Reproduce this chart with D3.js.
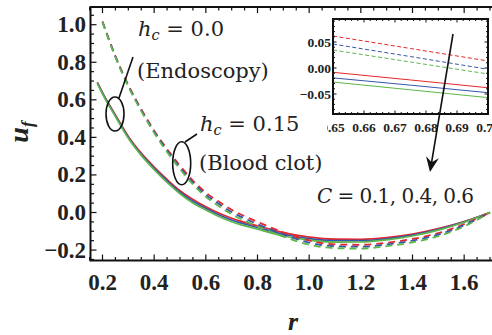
<!DOCTYPE html>
<html><head><meta charset="utf-8">
<script src="https://cdn.jsdelivr.net/npm/d3@7"></script>
<style>body{margin:0;background:#fff}svg{display:block}</style>
</head><body>
<svg id="c" width="492" height="335"></svg>
<script>
// ---------- data ----------
const rSolid = [0.18,0.2,0.25,0.3,0.35,0.4,0.45,0.5,0.55,0.6,0.65,0.7,0.8,0.9,1.0,1.1,1.2,1.3,1.4,1.5,1.6,1.7];
const solidC01 = [0.693,0.638,0.519,0.405,0.316,0.242,0.176,0.116,0.069,0.031,-0.003,-0.031,-0.071,-0.107,-0.131,-0.142,-0.143,-0.134,-0.115,-0.086,-0.048,0];
const solidC04 = [0.690,0.635,0.515,0.400,0.310,0.235,0.168,0.108,0.060,0.022,-0.012,-0.040,-0.080,-0.116,-0.139,-0.150,-0.150,-0.140,-0.120,-0.090,-0.050,0];
const solidC06 = [0.687,0.632,0.511,0.395,0.304,0.228,0.160,0.100,0.051,0.013,-0.021,-0.049,-0.089,-0.125,-0.147,-0.158,-0.157,-0.146,-0.125,-0.094,-0.052,0];
const rDashed = [0.2,0.25,0.3,0.35,0.4,0.45,0.5,0.55,0.6,0.65,0.7,0.8,0.9,1.0,1.1,1.2,1.3,1.4,1.5,1.6,1.7];
const dashedC01 = [1.017,0.833,0.679,0.550,0.436,0.338,0.249,0.170,0.106,0.058,0.015,-0.050,-0.106,-0.149,-0.170,-0.172,-0.161,-0.141,-0.110,-0.062,0];
const dashedC04 = [1.015,0.830,0.675,0.545,0.430,0.330,0.240,0.160,0.095,0.046,0.003,-0.062,-0.117,-0.160,-0.180,-0.182,-0.170,-0.150,-0.118,-0.068,0];
const dashedC06 = [1.013,0.827,0.671,0.540,0.424,0.322,0.231,0.150,0.084,0.034,-0.009,-0.074,-0.128,-0.171,-0.190,-0.192,-0.179,-0.159,-0.126,-0.074,0];
// inset (zoom of 0.65 <= r <= 0.70)
const rInset = [0.65,0.675,0.70];
const insetDashedC01 = [0.0615,0.0375,0.0135];
const insetDashedC04 = [0.046,0.022,-0.0025];
const insetDashedC06 = [0.0346,0.0115,-0.0115];
const insetSolidC01 = [-0.0083,-0.023,-0.038];
const insetSolidC04 = [-0.019,-0.033,-0.0475];
const insetSolidC06 = [-0.027,-0.042,-0.057];
const xTicks = [0.2,0.4,0.6,0.8,1.0,1.2,1.4,1.6];
const yTicks = [-0.2,0.0,0.2,0.4,0.6,0.8,1.0];
const insetXTicks = [0.65,0.66,0.67,0.68,0.69,0.70];
const insetYTicks = [-0.05,0.00,0.05];
const cLabels = ["0.1","0.4","0.6"];
const colors = ["#e5262c","#3656a8","#5cb64a"];

// ---------- scales ----------
const svg = d3.select("#c");
const L = 90.5, T = 7, B = 260.5, R = 496;
const x = d3.scaleLinear().domain([0.2,1.7]).range([102.5,490]);
const y = d3.scaleLinear().domain([0,1]).range([212.5,24.7]);
const fmt = v => (v<0?"\u2212":"") + Math.abs(v).toFixed(1);

// ticks (inward)
const g = svg.append("g");
const minorX = d3.range(0.15,1.76,0.05);
const minorY = d3.range(-0.25,1.09,0.05);
minorX.forEach(v=>{
  const major = xTicks.some(t=>Math.abs(t-v)<1e-6);
  const len = major?6:3.5;
  g.append("line").attr("x1",x(v)).attr("x2",x(v)).attr("y1",B).attr("y2",B-len).attr("stroke","#111").attr("stroke-width",1.2);
  g.append("line").attr("x1",x(v)).attr("x2",x(v)).attr("y1",T).attr("y2",T+len).attr("stroke","#111").attr("stroke-width",1.2);
});
minorY.forEach(v=>{
  if (y(v)<T+1||y(v)>B-1) return;
  const major = yTicks.some(t=>Math.abs(t-v)<1e-6);
  const len = major?6:3.5;
  g.append("line").attr("x1",L).attr("x2",L+len).attr("y1",y(v)).attr("y2",y(v)).attr("stroke","#111").attr("stroke-width",1.2);
});
// frame
svg.append("path").attr("d",`M${R},${T}H${L}V${B}H${R}`).attr("fill","none").attr("stroke","#111").attr("stroke-width",2);

// tick labels
const tf = "'Liberation Serif', 'DejaVu Serif', serif";
svg.append("g").selectAll("text").data(xTicks).join("text")
  .attr("x",d=>x(d)).attr("y",290).attr("text-anchor","middle")
  .attr("font-family",tf).attr("font-weight","bold").attr("font-size",23).attr("fill","#222")
  .text(d=>d.toFixed(1));
svg.append("g").selectAll("text").data(yTicks).join("text")
  .attr("x",86).attr("y",d=>y(d)+7.5).attr("text-anchor","end")
  .attr("font-family",tf).attr("font-weight","bold").attr("font-size",23).attr("fill","#222")
  .text(fmt);

// axis titles
svg.append("text").attr("x",293).attr("y",330).attr("text-anchor","middle")
  .attr("font-family",tf).attr("font-style","italic").attr("font-weight","bold").attr("font-size",26).attr("fill","#222").text("r");
const yt = svg.append("text").attr("transform","translate(28,132) rotate(-90)").attr("text-anchor","middle")
  .attr("font-family",tf).attr("font-style","italic").attr("font-weight","bold").attr("font-size",28).attr("fill","#222");
yt.append("tspan").text("u");
yt.append("tspan").attr("font-size",17).attr("dy",5).text("f");

// curves
const line = d3.line().x(d=>x(d[0])).y(d=>y(d[1])).curve(d3.curveMonotoneX);
const curvesG = svg.append("g");
[solidC01,solidC04,solidC06].forEach((s,i)=>{
  curvesG.append("path").attr("d",line(rSolid.map((r,j)=>[r,s[j]])))
    .attr("fill","none").attr("stroke",colors[i]).attr("stroke-width",1.7);
});
[dashedC01,dashedC04,dashedC06].forEach((s,i)=>{
  curvesG.append("path").attr("d",line(rDashed.map((r,j)=>[r,s[j]])))
    .attr("fill","none").attr("stroke",colors[i]).attr("stroke-width",1.8).attr("stroke-dasharray","7,5");
});

// annotations
const af = "'DejaVu Serif', serif";
const afs = 21;
function hLabel(xp,yp,val){
  const t = svg.append("text").attr("x",xp).attr("y",yp).attr("font-family",af).attr("font-size",afs).attr("fill","#222");
  t.append("tspan").attr("font-style","italic").text("h");
  t.append("tspan").attr("font-style","italic").attr("font-size",14.5).attr("dy",4).text("c");
  t.append("tspan").attr("dy",-4).text(" = "+val);
}
hLabel(138,36,"0.0");
svg.append("text").attr("x",137).attr("y",78).attr("font-family",af).attr("font-size",afs).attr("fill","#222").text("(Endoscopy)");
hLabel(200,131,"0.15");
svg.append("text").attr("x",199).attr("y",170).attr("font-family",af).attr("font-size",afs).attr("fill","#222").text("(Blood clot)");
const ct = svg.append("text").attr("x",317).attr("y",203).attr("font-family",af).attr("font-size",20).attr("fill","#222")
  .attr("textLength",157).attr("lengthAdjust","spacing");
ct.append("tspan").attr("font-style","italic").text("C");
ct.append("tspan").text(" = "+cLabels.join(", "));

// ellipses and pointers
svg.append("ellipse").attr("cx",115).attr("cy",114).attr("rx",9).attr("ry",17).attr("fill","none").attr("stroke","#111").attr("stroke-width",1.6);
svg.append("line").attr("x1",119).attr("y1",98).attr("x2",133).attr("y2",57).attr("stroke","#111").attr("stroke-width",1.6);
svg.append("ellipse").attr("cx",181.7).attr("cy",163.3).attr("rx",9).attr("ry",21.5).attr("fill","none").attr("stroke","#111").attr("stroke-width",1.6);
svg.append("line").attr("x1",185).attr("y1",142).attr("x2",197).attr("y2",134).attr("stroke","#111").attr("stroke-width",1.6);

// inset
const IL = 333, IR = 488, IT = 19, IB = 114;
const ix = d3.scaleLinear().domain([0.65,0.70]).range([IL,IR]);
const iy = d3.scaleLinear().domain([-0.05,0.05]).range([94,42]);
const ins = svg.append("g");
ins.append("rect").attr("x",IL).attr("y",IT).attr("width",IR-IL).attr("height",IB-IT).attr("fill","#fff");
svg.append("defs").append("clipPath").attr("id","ic").append("rect").attr("x",IL).attr("y",IT).attr("width",IR-IL).attr("height",IB-IT);
const il = d3.line().x(d=>ix(d[0])).y(d=>iy(d[1]));
const ilg = ins.append("g").attr("clip-path","url(#ic)");
[insetDashedC01,insetDashedC04,insetDashedC06].forEach((s,i)=>{
  ilg.append("path").attr("d",il(rInset.map((r,j)=>[r,s[j]]))).attr("fill","none").attr("stroke",colors[i]).attr("stroke-width",1).attr("stroke-dasharray","4,2.5");
});
[insetSolidC01,insetSolidC04,insetSolidC06].forEach((s,i)=>{
  ilg.append("path").attr("d",il(rInset.map((r,j)=>[r,s[j]]))).attr("fill","none").attr("stroke",colors[i]).attr("stroke-width",1);
});
d3.range(0.65,0.7001,0.002).forEach(v=>{
  const major = insetXTicks.some(t=>Math.abs(t-v)<1e-6);
  const len = major?3.5:2;
  ins.append("line").attr("x1",ix(v)).attr("x2",ix(v)).attr("y1",IB).attr("y2",IB-len).attr("stroke","#111").attr("stroke-width",1);
  ins.append("line").attr("x1",ix(v)).attr("x2",ix(v)).attr("y1",IT).attr("y2",IT+len).attr("stroke","#111").attr("stroke-width",1);
});
d3.range(-0.08,0.0901,0.01).forEach(v=>{
  const yy = iy(v); if (yy<IT+1||yy>IB-1) return;
  const major = insetYTicks.some(t=>Math.abs(t-v)<1e-6);
  const len = major?3.5:2;
  ins.append("line").attr("x1",IL).attr("x2",IL+len).attr("y1",yy).attr("y2",yy).attr("stroke","#111").attr("stroke-width",1);
  ins.append("line").attr("x1",IR).attr("x2",IR-len).attr("y1",yy).attr("y2",yy).attr("stroke","#111").attr("stroke-width",1);
});
ins.append("rect").attr("x",IL).attr("y",IT).attr("width",IR-IL).attr("height",IB-IT).attr("fill","none").attr("stroke","#111").attr("stroke-width",2);
svg.append("defs").append("clipPath").attr("id","lc").append("rect").attr("x",327).attr("y",115).attr("width",170).attr("height",25);
ins.append("g").attr("clip-path","url(#lc)").selectAll("text").data(insetXTicks).join("text")
  .attr("x",d=>ix(d)).attr("y",132).attr("text-anchor","middle")
  .attr("font-family",tf).attr("font-weight","bold").attr("font-size",13.5).attr("fill","#222")
  .text(d=>d.toFixed(2));
ins.selectAll("text.iy").data(insetYTicks).join("text").attr("class","iy")
  .attr("x",331).attr("y",d=>iy(d)+4.5).attr("text-anchor","end")
  .attr("font-family",tf).attr("font-weight","bold").attr("font-size",13.5).attr("fill","#222")
  .text(d=>(d<0?"\u2212":"")+Math.abs(d).toFixed(2));

// arrow
const ax1=453, ay1=34, ax2=430, ay2=172;
const dx=ax2-ax1, dy=ay2-ay1, len=Math.hypot(dx,dy), ux=dx/len, uy=dy/len, px=-uy, py=ux;
const hl=15, hw=6.5, notch=5;
svg.append("line").attr("x1",ax1).attr("y1",ay1).attr("x2",ax2-ux*hl*0.6).attr("y2",ay2-uy*hl*0.6).attr("stroke","#111").attr("stroke-width",1.6);
const bx=ax2-ux*hl, by=ay2-uy*hl;
svg.append("path").attr("d",`M${ax2},${ay2}L${bx+px*hw},${by+py*hw}L${ax2-ux*(hl-notch)},${ay2-uy*(hl-notch)}L${bx-px*hw},${by-py*hw}Z`).attr("fill","#111");
</script>
</body></html>
